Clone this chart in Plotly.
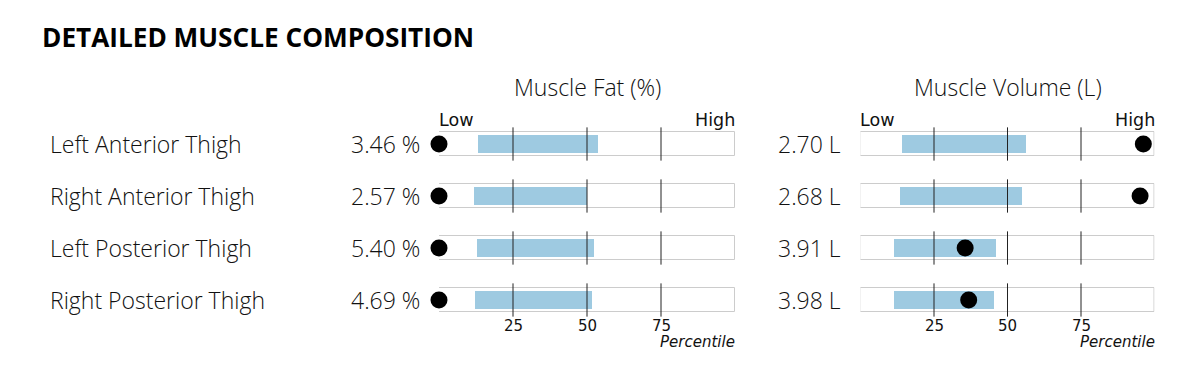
import plotly.graph_objects as go

# ---------------- data ----------------
rows = ["Left Anterior Thigh", "Right Anterior Thigh", "Left Posterior Thigh", "Right Posterior Thigh"]
fat_pct = [3.46, 2.57, 5.40, 4.69]
fat_percentile = [0, 0, 0, 0]
fat_range_low = [13.3, 11.8, 12.7, 12.3]
fat_range_high = [53.8, 49.9, 52.4, 51.8]

volume_l = [2.70, 2.68, 3.91, 3.98]
vol_percentile = [96.2, 95.1, 35.6, 36.8]
vol_range_low = [13.8, 13.4, 11.2, 11.2]
vol_range_high = [56.0, 54.8, 45.9, 45.4]

percentile_ticks = [25, 50, 75]
panel_titles = ["Muscle Fat (%)", "Muscle Volume (L)"]
chart_title = "DETAILED MUSCLE COMPOSITION"

# ---------------- layout constants ----------------
W, H = 1194, 372
SANS = "Open Sans"
MPL = "DejaVu Sans"
BLUE = "#9ecae1"
BOX_LINE = "#cccccc"
TICK_COL = "#222222"
TXT = 23

def px(x):
    return x / W

def py(y):
    return 1 - y / H

row_idx = list(range(len(rows)))

fig = go.Figure()

panels = [
    dict(xa="x", ya="y", dom=[px(439), px(735)], pct=fat_percentile, lo=fat_range_low, hi=fat_range_high,
         vals=[f"{v:.2f} %" for v in fat_pct], val_x=px(422), title=panel_titles[0]),
    dict(xa="x2", ya="y2", dom=[px(860.5), px(1154.5)], pct=vol_percentile, lo=vol_range_low, hi=vol_range_high,
         vals=[f"{v:.2f} L" for v in volume_l], val_x=px(843), title=panel_titles[1]),
]

annotations = []
ydom = [py(326), py(118)]

for k, p in enumerate(panels):
    # background box
    fig.add_trace(go.Bar(
        x=[100] * len(rows), base=[0] * len(rows), y=row_idx, orientation="h", width=0.47,
        marker=dict(color="white", line=dict(color=BOX_LINE, width=1)),
        xaxis=p["xa"], yaxis=p["ya"], hoverinfo="skip", showlegend=False))
    # normal range bar
    fig.add_trace(go.Bar(
        x=[h - l for h, l in zip(p["hi"], p["lo"])], base=p["lo"], y=row_idx, orientation="h", width=0.33,
        marker=dict(color=BLUE, line=dict(width=0)),
        xaxis=p["xa"], yaxis=p["ya"], showlegend=False))
    # tick lines
    lx, ly = [], []
    for r in row_idx:
        for t in percentile_ticks:
            lx += [t, t, None]
            ly += [r - 0.32, r + 0.32, None]
    fig.add_trace(go.Scatter(x=lx, y=ly, mode="lines", line=dict(color=TICK_COL, width=1),
                             xaxis=p["xa"], yaxis=p["ya"], hoverinfo="skip", showlegend=False))
    # dots
    fig.add_trace(go.Scatter(x=p["pct"], y=row_idx, mode="markers", marker=dict(color="black", size=17),
                             cliponaxis=False, xaxis=p["xa"], yaxis=p["ya"], showlegend=False))

    xname = "xaxis" if k == 0 else "xaxis2"
    yname = "yaxis" if k == 0 else "yaxis2"
    fig.update_layout({
        xname: dict(domain=p["dom"], range=[0, 100], visible=False, fixedrange=True,
                    anchor=p["ya"]),
        yname: dict(domain=ydom, range=[3.5, -0.5], visible=False, fixedrange=True,
                    anchor=p["xa"]),
    })

    # values
    for r, v in zip(row_idx, p["vals"]):
        annotations.append(dict(text=v, xref="paper", x=p["val_x"], xanchor="right",
                                yref=p["ya"], y=r, yanchor="middle", showarrow=False,
                                font=dict(family=SANS, size=TXT, color="#111", weight=300)))
    # tick labels
    for t in percentile_ticks:
        annotations.append(dict(text=str(t), xref=p["xa"], x=t, xanchor="center",
                                yref="paper", y=py(325.5), yanchor="middle", showarrow=False,
                                font=dict(family=MPL, size=15, color="#111", weight="normal")))
    # Percentile
    annotations.append(dict(text="Percentile", xref=p["xa"], x=100, xshift=2, xanchor="right",
                            yref="paper", y=py(342), yanchor="middle", showarrow=False,
                            font=dict(family=MPL, size=15, color="#111", weight="normal", style="italic")))
    # Low / High
    annotations.append(dict(text="Low", xref=p["xa"], x=0, xshift=-2.5, xanchor="left",
                            yref="paper", y=py(119.5), yanchor="middle", showarrow=False,
                            font=dict(family=MPL, size=17.5, color="#111", weight="normal")))
    annotations.append(dict(text="High", xref=p["xa"], x=100, xshift=2, xanchor="right",
                            yref="paper", y=py(119.5), yanchor="middle", showarrow=False,
                            font=dict(family=MPL, size=17.5, color="#111", weight="normal")))
    # panel title
    annotations.append(dict(text=p["title"], xref=p["xa"], x=50, xanchor="center",
                            yref="paper", y=py(87), yanchor="middle", showarrow=False,
                            font=dict(family=SANS, size=TXT, color="#111", weight=300)))

# row labels
for r, name in zip(row_idx, rows):
    annotations.append(dict(text=name, xref="paper", x=px(48), xanchor="left",
                            yref="y", y=r, yanchor="middle", showarrow=False,
                            font=dict(family=SANS, size=TXT, color="#111", weight=300)))

# chart title
annotations.append(dict(text=f"<b>{chart_title}</b>", xref="paper", x=px(40), xanchor="left",
                        yref="paper", y=py(37), yanchor="middle", showarrow=False,
                        font=dict(family=SANS, size=26.2, color="black")))

fig.update_layout(
    width=W, height=H, margin=dict(l=0, r=0, t=0, b=0),
    paper_bgcolor="white", plot_bgcolor="white",
    barmode="overlay", bargap=0,
    annotations=annotations,
    showlegend=False,
)

fig.write_html("out.html", config={"displayModeBar": False},
               post_script="document.body.style.margin='0';document.body.style.padding='0';")
